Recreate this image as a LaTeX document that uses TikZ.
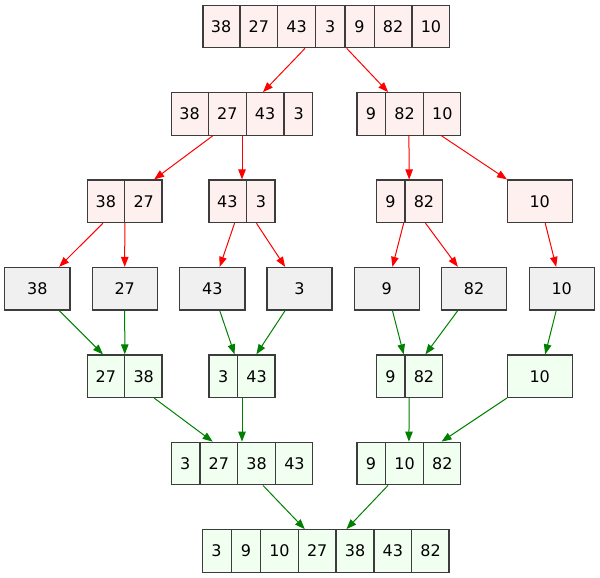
\documentclass[tikz,border=0pt]{standalone}
\usepackage{fontspec}
\setmainfont{DejaVu Sans}
\usetikzlibrary{shapes.multipart,arrows.meta}

\definecolor{splitfill}{RGB}{255,240,240}
\definecolor{leaffill}{RGB}{240,240,240}
\definecolor{mergefill}{RGB}{240,255,240}
\definecolor{edgegreen}{RGB}{0,128,0}
\definecolor{boxline}{RGB}{60,60,60}

\newcommand{\vstrut}{\rule[-11.5pt]{0pt}{31.8pt}}
\newcommand{\recn}[1]{\makebox[21pt]{\vstrut#1}}
\newcommand{\recw}[1]{\makebox[27.35pt]{\vstrut#1}}

\begin{document}
\begin{tikzpicture}[x=0.75pt, y=-0.75pt, font=\fontsize{12}{14}\selectfont,
    rec/.style = {rectangle split, rectangle split horizontal, draw=boxline, line width=1pt, inner sep=0pt},
    single/.style = {rectangle, draw=boxline, line width=1pt, inner sep=0pt, minimum width=48.8pt, minimum height=31.8pt},
    pinkbox/.style = {fill=splitfill},
    greybox/.style = {fill=leaffill},
    greenbox/.style = {fill=mergefill},
    splitedge/.style = {red, line width=0.75pt, -{Triangle[length=7.5pt,width=5.6pt]}},
    mergeedge/.style = {edgegreen, line width=0.75pt, -{Triangle[length=7.5pt,width=5.6pt]}}]
  \useasboundingbox (0,0) rectangle (600,578);

  % splitting
  \node[rec, pinkbox, rectangle split parts=7] (s_1) at (326,26.5)
    {\recw{38}\nodepart{two}\recw{27}\nodepart{three}\recw{43}\nodepart{four}\recn{3}\nodepart{five}\recn{9}\nodepart{six}\recw{82}\nodepart{seven}\recw{10}};
  \node[rec, pinkbox, rectangle split parts=4] (s_2) at (242,114)
    {\recw{38}\nodepart{two}\recw{27}\nodepart{three}\recw{43}\nodepart{four}\recn{3}};
  \node[rec, pinkbox, rectangle split parts=3] (s_3) at (408.8,114)
    {\recn{9}\nodepart{two}\recw{82}\nodepart{three}\recw{10}};
  \node[rec, pinkbox, rectangle split parts=2] (s_4) at (124.8,201.3)
    {\recw{38}\nodepart{two}\recw{27}};
  \node[rec, pinkbox, rectangle split parts=2] (s_5) at (242,201.3)
    {\recw{43}\nodepart{two}\recn{3}};
  \node[rec, pinkbox, rectangle split parts=2] (s_6) at (409.3,201.3)
    {\recn{9}\nodepart{two}\recw{82}};
  \node[single, pinkbox] (s_7) at (539.7,201.3) {10};

  % leaves
  \node[single, greybox] (l_1) at (37.3,288.7) {38};
  \node[single, greybox] (l_2) at (124.7,288.7) {27};
  \node[single, greybox] (l_3) at (212.3,288.7) {43};
  \node[single, greybox] (l_4) at (299.5,288.7) {3};
  \node[single, greybox] (l_5) at (386.8,288.7) {9};
  \node[single, greybox] (l_6) at (474,288.7) {82};
  \node[single, greybox] (l_7) at (561.7,288.7) {10};

  % merging
  \node[rec, greenbox, rectangle split parts=2] (m_1) at (124.8,376.2)
    {\recw{27}\nodepart{two}\recw{38}};
  \node[rec, greenbox, rectangle split parts=2] (m_2) at (242,376.2)
    {\recn{3}\nodepart{two}\recw{43}};
  \node[rec, greenbox, rectangle split parts=2] (m_3) at (409.3,376.2)
    {\recn{9}\nodepart{two}\recw{82}};
  \node[single, greenbox] (m_4) at (539.7,376.2) {10};
  \node[rec, greenbox, rectangle split parts=4] (m_5) at (242,463.5)
    {\recn{3}\nodepart{two}\recw{27}\nodepart{three}\recw{38}\nodepart{four}\recw{43}};
  \node[rec, greenbox, rectangle split parts=3] (m_6) at (408.8,463.5)
    {\recn{9}\nodepart{two}\recw{10}\nodepart{three}\recw{82}};
  \node[rec, greenbox, rectangle split parts=7] (m_7) at (325.7,551)
    {\recn{3}\nodepart{two}\recn{9}\nodepart{three}\recw{10}\nodepart{four}\recw{27}\nodepart{five}\recw{38}\nodepart{six}\recw{43}\nodepart{seven}\recw{82}};

  \foreach \a/\b in {s_1/s_2, s_1/s_3, s_2/s_4, s_2/s_5, s_3/s_6, s_3/s_7,
      s_4/l_1, s_4/l_2, s_5/l_3, s_5/l_4, s_6/l_5, s_6/l_6, s_7/l_7}
    \draw[splitedge] (\a) -- (\b);
  \foreach \a/\b in {l_1/m_1, l_2/m_1, l_3/m_2, l_4/m_2, l_5/m_3, l_6/m_3, l_7/m_4,
      m_1/m_5, m_2/m_5, m_3/m_6, m_4/m_6, m_5/m_7, m_6/m_7}
    \draw[mergeedge] (\a) -- (\b);
\end{tikzpicture}
\end{document}
